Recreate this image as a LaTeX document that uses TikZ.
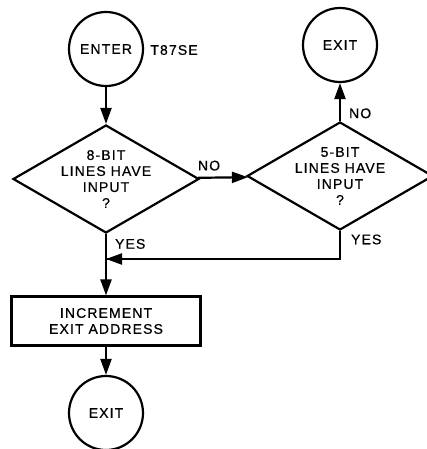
\documentclass[tikz,border=0pt]{standalone}
\usepackage{fontspec}
\usepackage{tikz}
\usetikzlibrary{arrows.meta}
\usetikzlibrary{shapes.geometric}
\newfontfamily\lettering[LetterSpace=8,FakeBold=0.6]{Liberation Sans}
\newcommand{\letterfont}{\lettering\fontsize{14}{16}\selectfont}
\tikzstyle{term}=[circle,draw,line width=2.2pt,minimum size=74pt,inner sep=0pt,font=\letterfont]
\tikzstyle{test}=[diamond,draw,line width=2.2pt,shape aspect=1.72,minimum width=186pt,minimum height=108pt,inner sep=-3pt,align=center,font=\letterfont]
\tikzstyle{box}=[rectangle,draw,line width=2.2pt,minimum width=189pt,minimum height=49pt,align=center,font=\letterfont]
\tikzstyle{to}=[-{Triangle[length=16pt,width=11pt]},line width=2.2pt]
\tikzstyle{tag}=[font=\letterfont,inner sep=2pt]
\begin{document}
\begin{tikzpicture}[x=1pt,y=-1pt]
\useasboundingbox (0,0) rectangle (427,449);
\node (enter) [term]  at (106,49)   {ENTER};
\node (code)  [tag]   at (174,50)   {T87SE};
\node (eight) [test]  at (106,179)  {8-BIT\\LINES HAVE\\INPUT\\?};
\node (five)  [test]  at (340,176)  {5-BIT\\LINES HAVE\\INPUT\\?};
\node (exitA) [term]  at (340,45)   {EXIT};
\node (incr)  [box]   at (106,321)  {INCREMENT\\EXIT\ ADDRESS};
\node (exitB) [term]  at (106,413)  {EXIT};
\coordinate (join) at (106,259);
\draw [to] (enter) -- (eight);
\draw [to] (eight) -- node[tag,above,pos=0.22,yshift=4pt] {NO} (five);
\draw [to] (five) -- node[tag,right,pos=0.2,xshift=6pt] {NO} (exitA);
\draw [to] (eight) -- node[tag,right,pos=0.16,xshift=6pt] {YES} (incr);
\draw [line width=2.2pt] (five.south) |- node[tag,right,pos=0.15,xshift=8pt] {YES} (join);
\draw [to] (five.south) |- (join);
\draw [to] (incr) -- (exitB);
\end{tikzpicture}
\end{document}
